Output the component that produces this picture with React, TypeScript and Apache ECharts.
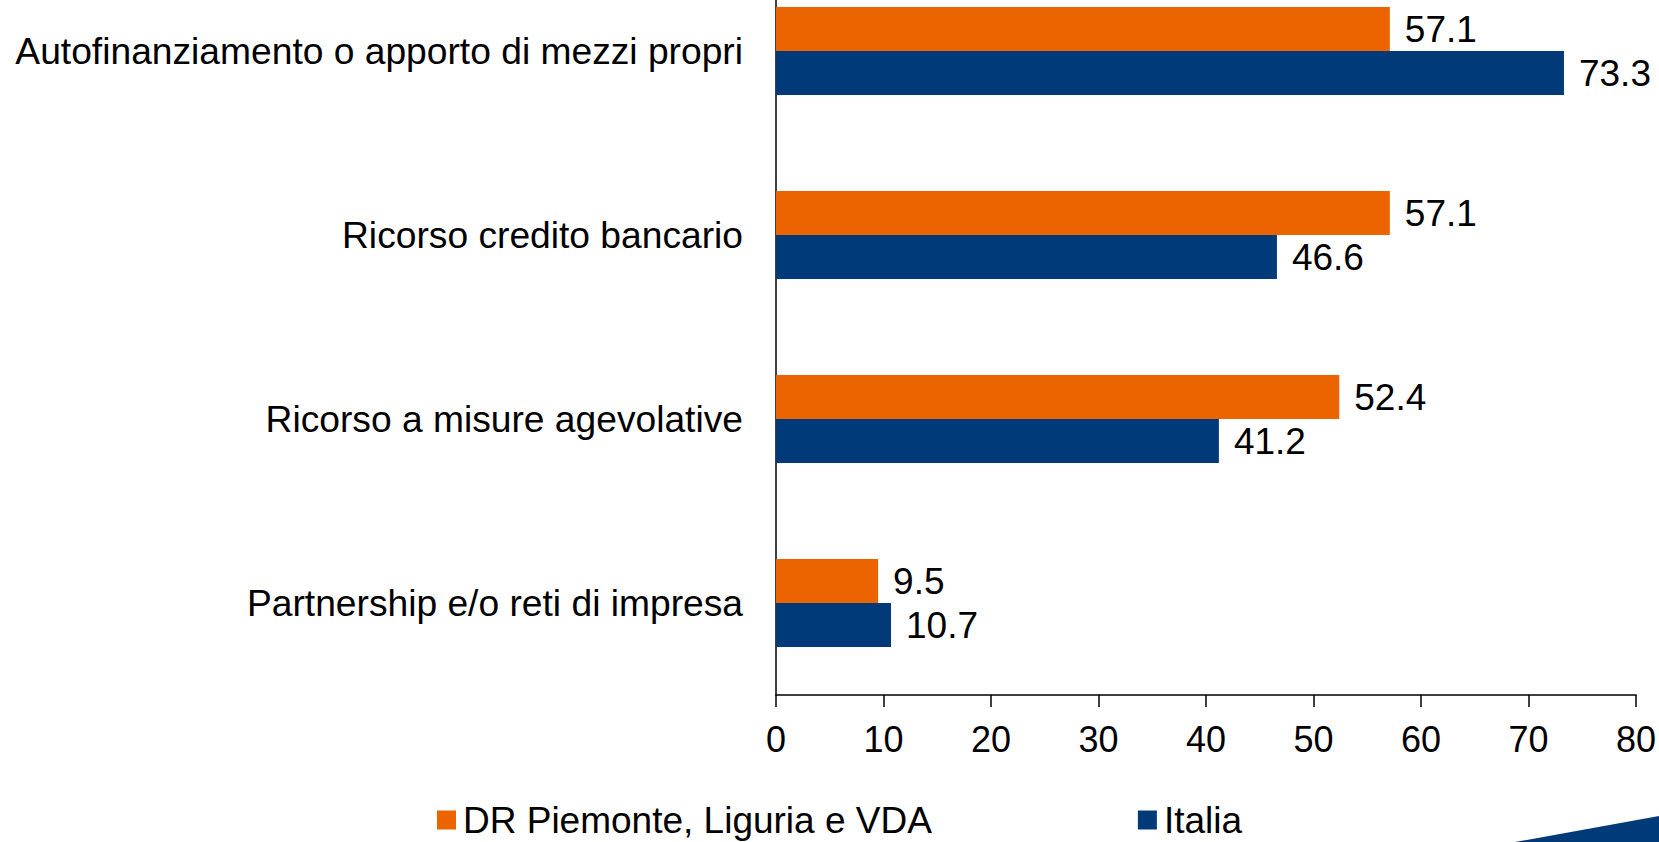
import React, { useEffect, useRef } from "react";
import * as echarts from "echarts";

const categories = [
  "Autofinanziamento o apporto di mezzi propri",
  "Ricorso credito bancario",
  "Ricorso a misure agevolative",
  "Partnership e/o reti di impresa",
];
const seriesNames = ["DR Piemonte, Liguria e VDA", "Italia"];
const drValues = [57.1, 57.1, 52.4, 9.5];
const italiaValues = [73.3, 46.6, 41.2, 10.7];
const xTicks = { min: 0, max: 80, interval: 10 };

const ORANGE = "#EC6400";
const BLUE = "#003A79";
const FONT = "Liberation Sans, Arial, sans-serif";
const SHIFT = 41; // chart canvas starts above the page top (plot area is cropped at top)

export default function App() {
  const ref = useRef<HTMLDivElement>(null);
  useEffect(() => {
    if (!ref.current) return;
    const chart = echarts.init(ref.current, undefined, { renderer: "svg" });
    const labelStyle = {
      show: true,
      position: "right" as const,
      distance: 15,
      color: "#000",
      fontSize: 37,
      fontFamily: FONT,
    };
    chart.setOption({
      animation: false,
      textStyle: { fontFamily: FONT },
      grid: { left: 776, right: 23, top: 0, bottom: 147, containLabel: false },
      legend: {
        data: seriesNames,
        left: 437,
        top: 800 + SHIFT,
        itemWidth: 19,
        itemHeight: 19,
        itemGap: 206,
        icon: "rect",
        textStyle: { fontSize: 37, color: "#000", fontFamily: FONT, lineHeight: 40, padding: [0, 0, 0, 2] },
        padding: 0,
      },
      xAxis: {
        type: "value",
        min: xTicks.min,
        max: xTicks.max,
        interval: xTicks.interval,
        splitLine: { show: false },
        axisLine: { show: true, lineStyle: { color: "#000", width: 1.5 } },
        axisTick: { show: true, length: 12, lineStyle: { color: "#000", width: 1.5 } },
        axisLabel: { color: "#000", fontSize: 36, fontFamily: FONT, margin: 26 },
      },
      yAxis: {
        type: "category",
        data: categories,
        inverse: true,
        axisLine: { show: true, lineStyle: { color: "#000", width: 1.5 } },
        axisTick: { show: false },
        axisLabel: { color: "#000", fontSize: 37.2, fontFamily: FONT, margin: 33 },
      },
      series: [
        {
          name: seriesNames[0],
          type: "bar",
          data: drValues,
          barWidth: 44,
          barGap: "0%",
          itemStyle: { color: ORANGE },
          label: labelStyle,
        },
        {
          name: seriesNames[1],
          type: "bar",
          data: italiaValues,
          barWidth: 44,
          barGap: "0%",
          itemStyle: { color: BLUE },
          label: labelStyle,
        },
      ],
      graphic: [
        {
          type: "polygon",
          silent: true,
          shape: { points: [[1515, 842 + SHIFT], [1659, 816 + SHIFT], [1659, 842 + SHIFT]] },
          style: { fill: BLUE },
        },
      ],
    });
    return () => chart.dispose();
  }, []);
  return (
    <div style={{ position: "fixed", left: 0, top: 0, width: 1659, height: 842, overflow: "hidden", background: "#fff" }}>
      <div
        ref={ref}
        style={{ position: "absolute", left: 0, top: -SHIFT, width: 1659, height: 842 + SHIFT }}
      />
    </div>
  );
}
